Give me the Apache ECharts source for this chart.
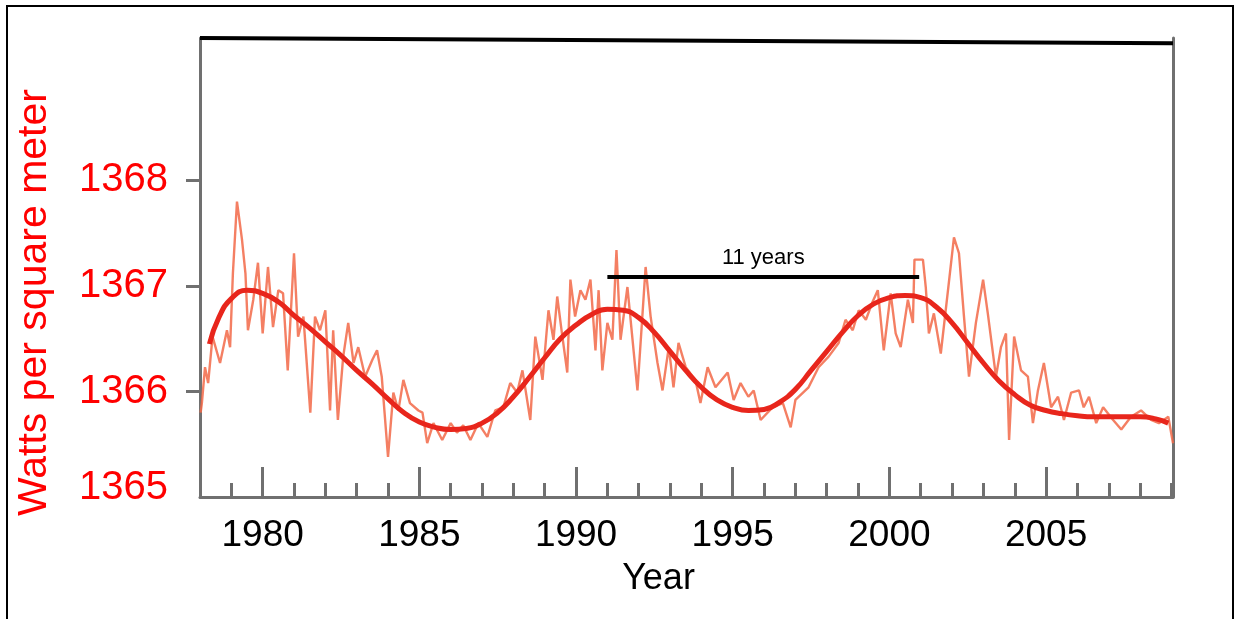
<!DOCTYPE html>
<html>
<head>
<meta charset="utf-8">
<title>Total solar irradiance</title>
<script src="https://cdn.jsdelivr.net/npm/echarts@6/dist/echarts.min.js"></script>
<style>
  html, body { margin: 0; padding: 0; background: #fff; }
  #chart { width: 1235px; height: 619px; }
</style>
</head>
<body>
<div id="chart"></div>
<script>
// monthly-ish irradiance (thin, noisy trace)
var noisyYears = [
  1978.02, 1978.06, 1978.16, 1978.26, 1978.40, 1978.64, 1978.86, 1978.96, 1979.05, 1979.18,
  1979.34, 1979.45, 1979.53, 1979.70, 1979.85, 1980.00, 1980.17, 1980.33, 1980.50, 1980.65,
  1980.80, 1981.00, 1981.13, 1981.30, 1981.52, 1981.67, 1981.83, 1982.00, 1982.15, 1982.25,
  1982.40, 1982.57, 1982.73, 1982.90, 1983.05, 1983.27, 1983.50, 1983.65, 1983.80, 1984.00,
  1984.17, 1984.33, 1984.49, 1984.70, 1984.97, 1985.10, 1985.25, 1985.45, 1985.73, 1986.00,
  1986.20, 1986.40, 1986.63, 1986.88, 1987.17, 1987.42, 1987.68, 1987.90, 1988.12, 1988.29,
  1988.54, 1988.70, 1988.93, 1989.12, 1989.28, 1989.40, 1989.55, 1989.72, 1989.82, 1989.97,
  1990.14, 1990.30, 1990.46, 1990.62, 1990.72, 1990.84, 1991.00, 1991.16, 1991.29, 1991.42,
  1991.64, 1991.96, 1992.22, 1992.38, 1992.60, 1992.76, 1992.96, 1993.11, 1993.27, 1993.50,
  1993.81, 1993.97, 1994.20, 1994.45, 1994.84, 1995.03, 1995.25, 1995.50, 1995.67, 1995.89,
  1996.27, 1996.60, 1996.85, 1997.00, 1997.42, 1997.74, 1998.06, 1998.38, 1998.60, 1998.83,
  1999.02, 1999.25, 1999.45, 1999.63, 1999.82, 2000.04, 2000.20, 2000.36, 2000.59, 2000.75,
  2000.80, 2001.07, 2001.16, 2001.26, 2001.42, 2001.64, 2001.87, 2002.06, 2002.22, 2002.38,
  2002.54, 2002.76, 2002.99, 2003.14, 2003.40, 2003.56, 2003.72, 2003.82, 2003.98, 2004.20,
  2004.42, 2004.58, 2004.74, 2004.93, 2005.16, 2005.38, 2005.57, 2005.80, 2006.05, 2006.20,
  2006.37, 2006.60, 2006.82, 2007.14, 2007.40, 2007.71, 2008.03, 2008.35, 2008.60, 2008.90,
  2009.05
];
var noisyValues = [
  1365.80, 1365.89, 1366.23, 1366.08, 1366.52, 1366.27, 1366.58, 1366.42, 1367.12, 1367.80,
  1367.44, 1367.12, 1366.58, 1366.87, 1367.22, 1366.55, 1367.18, 1366.61, 1366.96, 1366.93,
  1366.20, 1367.31, 1366.52, 1366.71, 1365.80, 1366.71, 1366.58, 1366.77, 1365.82, 1366.58,
  1365.73, 1366.33, 1366.65, 1366.27, 1366.42, 1366.14, 1366.30, 1366.39, 1366.14, 1365.38,
  1365.99, 1365.82, 1366.11, 1365.89, 1365.82, 1365.80, 1365.51, 1365.70, 1365.54, 1365.70,
  1365.61, 1365.68, 1365.54, 1365.70, 1365.57, 1365.82, 1365.85, 1366.08, 1365.99, 1366.20,
  1365.73, 1366.52, 1366.11, 1366.77, 1366.49, 1366.90, 1366.55, 1366.18, 1367.06, 1366.71,
  1366.96, 1366.87, 1367.06, 1366.39, 1366.96, 1366.20, 1366.65, 1366.49, 1367.34, 1366.49,
  1366.99, 1366.01, 1367.18, 1366.71, 1366.27, 1366.01, 1366.42, 1366.04, 1366.46, 1366.23,
  1366.11, 1365.89, 1366.23, 1366.04, 1366.18, 1365.92, 1366.08, 1365.95, 1366.01, 1365.73,
  1365.85, 1365.89, 1365.66, 1365.92, 1366.04, 1366.23, 1366.33, 1366.46, 1366.68, 1366.58,
  1366.77, 1366.68, 1366.84, 1366.96, 1366.39, 1366.93, 1366.55, 1366.42, 1366.87, 1366.65,
  1367.25, 1367.25, 1366.99, 1366.55, 1366.74, 1366.36, 1366.96, 1367.46, 1367.31, 1366.71,
  1366.14, 1366.65, 1367.06, 1366.74, 1366.14, 1366.42, 1366.55, 1365.54, 1366.52, 1366.20,
  1366.14, 1365.70, 1366.01, 1366.27, 1365.85, 1365.95, 1365.73, 1365.99, 1366.01, 1365.85,
  1365.95, 1365.70, 1365.85, 1365.73, 1365.64, 1365.76, 1365.82, 1365.73, 1365.70, 1365.76,
  1365.51
];

// smoothed cycle (thick line)
var smoothYears = [
  1978.3, 1978.6, 1979.0, 1979.5, 1980.0, 1980.5, 1981.0, 1981.5, 1982.0, 1982.5,
  1983.0, 1983.5, 1984.0, 1984.5, 1985.0, 1985.5, 1986.0, 1986.5, 1987.0, 1987.5,
  1988.0, 1988.5, 1989.0, 1989.5, 1990.0, 1990.5, 1991.0, 1991.5, 1992.0, 1992.5,
  1993.0, 1993.5, 1994.0, 1994.5, 1995.0, 1995.5, 1996.0, 1996.5, 1997.0, 1997.5,
  1998.0, 1998.5, 1999.0, 1999.5, 2000.0, 2000.5, 2001.0, 2001.5, 2002.0, 2002.5,
  2003.0, 2003.5, 2004.0, 2004.5, 2005.0, 2005.5, 2006.0, 2006.5, 2007.0, 2007.5,
  2008.0, 2008.5, 2008.9
];
var smoothValues = [
  1366.45, 1366.70, 1366.88, 1366.96, 1366.93, 1366.85, 1366.72, 1366.60, 1366.47, 1366.34,
  1366.20, 1366.07, 1365.93, 1365.80, 1365.71, 1365.66, 1365.64, 1365.65, 1365.70, 1365.80,
  1365.95, 1366.13, 1366.32, 1366.50, 1366.63, 1366.73, 1366.78, 1366.77, 1366.70, 1366.56,
  1366.38, 1366.20, 1366.04, 1365.92, 1365.85, 1365.82, 1365.83, 1365.90, 1366.02, 1366.20,
  1366.38, 1366.56, 1366.72, 1366.83, 1366.89, 1366.91, 1366.89, 1366.80, 1366.65, 1366.46,
  1366.27, 1366.10, 1365.97, 1365.87, 1365.82, 1365.79, 1365.77, 1365.76, 1365.76, 1365.76,
  1365.76, 1365.74, 1365.70
];

var minorTickYears = [
  1978, 1979, 1980, 1981, 1982, 1983, 1984, 1985, 1986, 1987, 1988, 1989, 1990, 1991, 1992, 1993,
  1994, 1995, 1996, 1997, 1998, 1999, 2000, 2001, 2002, 2003, 2004, 2005, 2006, 2007, 2008, 2009
];
var labelYears = [1980, 1985, 1990, 1995, 2000, 2005];
var yLabels = [1365, 1366, 1367, 1368];
var yTicks = [1366, 1367, 1368];

// "11 years" bracket between the two maxima
var cycleStart = 1991.0;
var cycleEnd = 2000.95;
var cycleLevel = 1367.09;

var font = '"Liberation Sans", Arial, sans-serif';
var axisGray = '#707070';

function pairs(xs, ys) {
  return xs.map(function (x, i) { return [x, ys[i]]; });
}

var chart = echarts.init(document.getElementById('chart'));
chart.setOption({
  backgroundColor: '#fff',
  animation: false,
  graphic: [{
    type: 'rect',
    shape: { x: 7, y: 6, width: 1226, height: 640 },
    style: { fill: 'none', stroke: '#000', lineWidth: 2 },
    silent: true
  }],
  grid: { left: 200, top: 38, right: 62, bottom: 122 },
  xAxis: [
    {
      type: 'value',
      min: 1978,
      max: 2009.05,
      position: 'bottom',
      name: 'Year',
      nameLocation: 'middle',
      nameGap: 64,
      nameTextStyle: { color: '#000', fontSize: 36, fontFamily: font, padding: [0, 56, 0, 0] },
      axisLine: { lineStyle: { color: axisGray, width: 3 } },
      axisTick: { inside: true, length: 14, customValues: minorTickYears, lineStyle: { color: axisGray, width: 3 } },
      axisLabel: {
        customValues: labelYears,
        color: '#000',
        fontSize: 37,
        fontFamily: font,
        margin: 20,
        formatter: function (v) { return String(v); }
      },
      splitLine: { show: false }
    },
    {
      type: 'value',
      min: 1978,
      max: 2009.05,
      position: 'bottom',
      axisLine: { show: false },
      axisTick: { inside: true, length: 30, customValues: labelYears, lineStyle: { color: axisGray, width: 3 } },
      axisLabel: { show: false },
      splitLine: { show: false }
    }
  ],
  yAxis: [
    {
      type: 'value',
      min: 1365,
      max: 1369.35,
      position: 'left',
      name: 'Watts per square meter',
      nameLocation: 'middle',
      nameGap: 145,
      nameTextStyle: { color: '#ff0000', fontSize: 41, fontFamily: font, padding: [0, 70, 0, 0] },
      axisLine: { lineStyle: { color: axisGray, width: 3 } },
      axisTick: { length: 14, customValues: yTicks, lineStyle: { color: axisGray, width: 3 } },
      axisLabel: {
        customValues: yLabels,
        color: '#ff0000',
        fontSize: 40,
        fontFamily: font,
        margin: 32,
        formatter: function (v) { return v === 1365 ? '{lo|1365}' : String(v); },
        rich: {
          lo: { color: '#ff0000', fontSize: 40, fontFamily: font, padding: [0, 0, 18, 0] }
        }
      },
      splitLine: { show: false }
    },
    {
      type: 'value',
      min: 1365,
      max: 1369.35,
      position: 'right',
      axisLine: { show: true, lineStyle: { color: axisGray, width: 3 } },
      axisTick: { show: false },
      axisLabel: { show: false },
      splitLine: { show: false }
    }
  ],
  series: [
    {
      type: 'line',
      data: pairs(noisyYears, noisyValues),
      showSymbol: false,
      lineStyle: { color: '#f26848', width: 2.4, opacity: 0.85 },
      z: 2
    },
    {
      type: 'line',
      data: pairs(smoothYears, smoothValues),
      smooth: 0.5,
      showSymbol: false,
      lineStyle: { color: '#e8261c', width: 5 },
      z: 3,
      markLine: {
        silent: true,
        symbol: 'none',
        data: [
          [
            {
              coord: [cycleStart, cycleLevel],
              label: {
                show: true,
                formatter: '11 years',
                position: 'insideMiddleTop',
                distance: 8,
                color: '#000',
                fontSize: 22,
                fontFamily: font
              },
              lineStyle: { color: '#000', width: 4, type: 'solid' }
            },
            { coord: [cycleEnd, cycleLevel] }
          ],
          [
            {
              coord: [1978, 1369.35],
              label: { show: false },
              lineStyle: { color: '#000', width: 4, type: 'solid' }
            },
            { coord: [2009.05, 1369.30] }
          ]
        ]
      }
    }
  ]
});
</script>
</body>
</html>
